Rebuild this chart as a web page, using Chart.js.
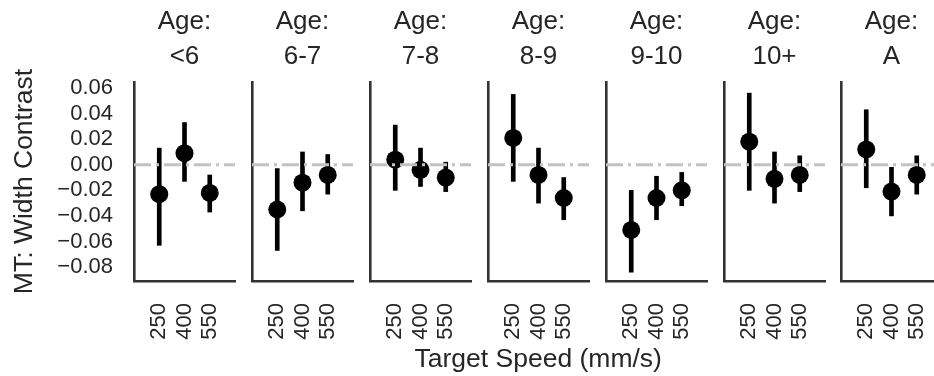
<!DOCTYPE html>
<html>
<head>
<meta charset="utf-8">
<script src="https://cdn.jsdelivr.net/npm/chart.js@4.4.1/dist/chart.umd.min.js"></script>
<style>
  html, body { margin: 0; padding: 0; background: #fff; overflow: hidden; }
  #fig { position: relative; width: 934px; height: 376px; overflow: hidden; }
  #fig canvas { position: absolute; top: 0; }
</style>
</head>
<body>
<div id="fig"></div>
<script>
// facet columns and x categories
var ageGroups = ['<6', '6-7', '7-8', '8-9', '9-10', '10+', 'A'];
var speedLabels = ['250', '400', '550'];

// point estimate per age group, one value per target speed
var meanContrast = [
    [-0.023, 0.009, -0.022],
    [-0.035, -0.014, -0.008],
    [0.004, -0.004, -0.010],
    [0.021, -0.008, -0.026],
    [-0.051, -0.026, -0.020],
    [0.018, -0.011, -0.008],
    [0.012, -0.021, -0.008]
];
// error bar ends
var ciLow = [
    [-0.063, -0.013, -0.037],
    [-0.067, -0.036, -0.023],
    [-0.020, -0.017, -0.021],
    [-0.013, -0.030, -0.043],
    [-0.084, -0.043, -0.032],
    [-0.020, -0.030, -0.021],
    [-0.018, -0.040, -0.023]
];
var ciHigh = [
    [0.013, 0.033, -0.008],
    [-0.003, 0.010, 0.008],
    [0.031, 0.013, 0.002],
    [0.055, 0.013, -0.010],
    [-0.020, -0.009, -0.006],
    [0.056, 0.010, 0.007],
    [0.043, -0.002, 0.007]
];
var yTicks = [-0.08, -0.06, -0.04, -0.02, 0.00, 0.02, 0.04, 0.06];
var yMin = -0.0909, yMax = 0.0647;
var xMin = -1, xMax = 3;

// layout (px)
var firstAxisX = 134, panelStep = 117.9, plotW = 101;
var plotTop = 82, plotBottom = 281, figH = 376;
var leftPad = 134, rightPad = 20;

var textColor = '#262626';
var spineColor = '#333333';
var fontFamily = '"Liberation Sans", Arial, sans-serif';

var fig = document.getElementById('fig');

function fmtTick(v) {
    var s = Math.abs(v).toFixed(2);
    return v < -1e-9 ? '\u2212' + s : s;
}

function addCanvas(left, width) {
    var canvas = document.createElement('canvas');
    canvas.width = width;
    canvas.height = figH;
    canvas.style.left = left + 'px';
    fig.appendChild(canvas);
    return canvas;
}

for (var p = 0; p < ageGroups.length; p++) {
    (function(p) {
        var canvas = addCanvas(firstAxisX + p * panelStep - leftPad, leftPad + plotW + rightPad);
        var first = p === 0;

        var points = [], bars = [];
        for (var i = 0; i < speedLabels.length; i++) {
            points.push({x: i, y: meanContrast[p][i]});
            bars.push({x: i, y: [ciLow[p][i], ciHigh[p][i]]});
        }

        new Chart(canvas, {
            type: 'scatter',
            data: {
                datasets: [
                    {
                        type: 'line',
                        data: [{x: xMin, y: 0}, {x: xMax, y: 0}],
                        borderColor: '#c2c2c2',
                        borderWidth: 3,
                        borderDash: [17, 5, 3, 5],
                        pointRadius: 0,
                        order: 0
                    },
                    {
                        type: 'scatter',
                        data: points,
                        backgroundColor: '#000',
                        borderColor: '#000',
                        pointRadius: 9,
                        borderWidth: 0,
                        order: 1
                    },
                    {
                        type: 'bar',
                        data: bars,
                        backgroundColor: '#000',
                        barThickness: 4,
                        borderWidth: 0,
                        order: 2
                    }
                ]
            },
            options: {
                responsive: false,
                animation: false,
                events: [],
                layout: {padding: {left: 0, right: rightPad, top: 0, bottom: 0}},
                plugins: {legend: {display: false}, tooltip: {enabled: false}},
                scales: {
                    x: {
                        type: 'linear',
                        position: 'bottom',
                        min: xMin,
                        max: xMax,
                        offset: false,
                        grid: {display: false, drawTicks: false},
                        border: {display: true, color: spineColor, width: 2.6},
                        afterBuildTicks: function(s) {
                            s.ticks = speedLabels.map(function(l, i) { return {value: i}; });
                        },
                        ticks: {
                            autoSkip: false,
                            minRotation: 90,
                            maxRotation: 90,
                            padding: 22,
                            color: textColor,
                            font: {family: fontFamily, size: 22},
                            callback: function(v) { return speedLabels[v]; }
                        },
                        afterFit: function(s) {
                            s.height = figH - plotBottom;
                            s.paddingLeft = 0;
                            s.paddingRight = 0;
                        }
                    },
                    top: {
                        type: 'linear',
                        position: 'top',
                        display: true,
                        grid: {display: false, drawTicks: false},
                        border: {display: false},
                        ticks: {display: false},
                        title: {
                            display: true,
                            text: ['Age:', ageGroups[p]],
                            color: textColor,
                            font: {family: fontFamily, size: 26, lineHeight: 1.33},
                            padding: {top: 5, bottom: 0}
                        },
                        afterFit: function(s) {
                            s.height = plotTop;
                            s.paddingLeft = 0;
                            s.paddingRight = 0;
                        }
                    },
                    y: {
                        type: 'linear',
                        position: 'left',
                        min: yMin,
                        max: yMax,
                        grid: {display: false, drawTicks: false},
                        border: {display: true, color: spineColor, width: 2.6},
                        afterBuildTicks: function(s) {
                            s.ticks = yTicks.map(function(v) { return {value: v}; });
                        },
                        ticks: {
                            display: first,
                            autoSkip: false,
                            padding: 21,
                            color: textColor,
                            font: {family: fontFamily, size: 22, lineHeight: 1},
                            callback: function(v) { return fmtTick(v); }
                        },
                        title: {
                            display: first,
                            text: 'MT: Width Contrast',
                            color: textColor,
                            font: {family: fontFamily, size: 26.5},
                            padding: {top: 9, bottom: 0}
                        },
                        afterFit: function(s) {
                            s.width = leftPad;
                            s.paddingTop = 0;
                            s.paddingBottom = 0;
                        }
                    }
                }
            }
        });
    })(p);
}

// shared x label spanning all facets (last facet runs past the right edge)
var spanRight = firstAxisX + (ageGroups.length - 1) * panelStep + plotW;
var labelCanvas = addCanvas(0, Math.ceil(spanRight) + 10);
new Chart(labelCanvas, {
    type: 'scatter',
    data: {datasets: []},
    options: {
        responsive: false,
        animation: false,
        events: [],
        layout: {padding: {left: firstAxisX, right: Math.ceil(spanRight) + 10 - spanRight, top: plotTop, bottom: 0}},
        plugins: {legend: {display: false}, tooltip: {enabled: false}},
        scales: {
            x: {
                type: 'linear',
                position: 'bottom',
                grid: {display: false, drawTicks: false},
                border: {display: false},
                ticks: {display: false},
                title: {
                    display: true,
                    text: 'Target Speed (mm/s)',
                    color: textColor,
                    font: {family: fontFamily, size: 26.5},
                    padding: {top: 0, bottom: 0}
                },
                afterFit: function(s) { s.height = figH - plotBottom; }
            },
            y: {display: false}
        }
    }
});
</script>
</body>
</html>
